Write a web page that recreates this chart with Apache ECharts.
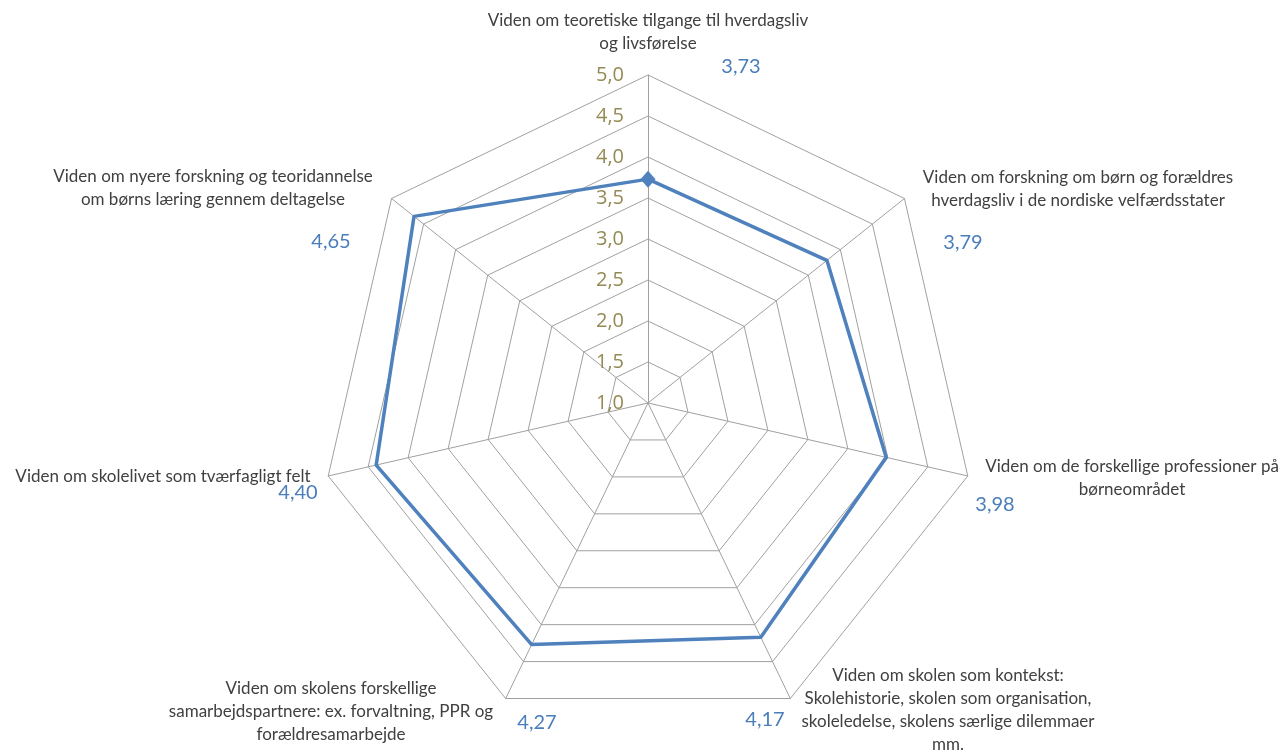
<!DOCTYPE html>
<html>
<head>
<meta charset="utf-8">
<script src="https://cdn.jsdelivr.net/npm/echarts@6/dist/echarts.min.js"></script>
<style>html,body{margin:0;padding:0;background:#fff}#c{width:1288px;height:753px}</style>
</head>
<body>
<div id="c"></div>
<script>
// Categories in clockwise order, starting at the top
const categories = [
  "Viden om teoretiske tilgange til hverdagsliv\nog livsførelse",
  "Viden om forskning om børn og forældres\nhverdagsliv i de nordiske velfærdsstater",
  "Viden om de forskellige professioner på\nbørneområdet",
  "Viden om skolen som kontekst:\nSkolehistorie, skolen som organisation,\nskoleledelse, skolens særlige dilemmaer\nmm.",
  "Viden om skolens forskellige\nsamarbejdspartnere: ex. forvaltning, PPR og\nforældresamarbejde",
  "Viden om skolelivet som tværfagligt felt",
  "Viden om nyere forskning og teoridannelse\nom børns læring gennem deltagelse"
];
const values = [3.73, 3.79, 3.98, 4.17, 4.27, 4.40, 4.65];
const tickLabels = ["1,0","1,5","2,0","2,5","3,0","3,5","4,0","4,5","5,0"];
const axisMin = 1, axisMax = 5, axisInterval = 0.5;

// Layout of texts (pixel anchors), same order as categories
const nameAnchors = [[648,32],[1078,189],[1132,478],[948,710],[331,712],[163,477],[213,188]];
const valueAnchors = [[741,67],[963,243],[995,505],[765,720],[537,723],[298,493],[331,242]];

// ECharts radar places indicators counter-clockwise: reorder
const order = [0,6,5,4,3,2,1];
const fmt = v => v.toFixed(2).replace('.', ',');

const CX = 648, CY = 403, R = 328;
const FONT = 'Lato, "Open Sans", sans-serif';

const chart = echarts.init(document.getElementById('c'));
const graphics = [];
categories.forEach((name, i) => {
  graphics.push({type:'text', x:nameAnchors[i][0], y:nameAnchors[i][1], silent:true,
    style:{text:name, fill:'#404040', font:'17px ' + FONT, align:'center', verticalAlign:'middle', lineHeight:23}});
  graphics.push({type:'text', x:valueAnchors[i][0], y:valueAnchors[i][1], silent:true,
    style:{text:fmt(values[i]), fill:'#4A7EBB', font:'20px ' + FONT, align:'center', verticalAlign:'middle'}});
});

chart.setOption({
  animation:false,
  radar:{
    center:[CX, CY], radius:R, startAngle:90, splitNumber:8, shape:'polygon',
    indicator: order.map((k, j) => ({
      name:'', min:axisMin, max:axisMax,
      axisLabel: j === 0 ? {show:true} : {show:false}
    })),
    axisName:{show:false},
    axisLine:{lineStyle:{color:'#A0A0A0', width:1}},
    splitLine:{lineStyle:{color:'#A0A0A0', width:1}},
    splitArea:{show:false},
    axisTick:{show:false},
    axisLabel:{show:false, color:'#948A54', fontSize:20, fontFamily:'"Open Sans", Lato, sans-serif', margin:24,
      formatter: v => tickLabels[Math.round((v - axisMin) / axisInterval)] || ''}
  },
  polar:{center:[CX, CY], radius:R},
  angleAxis:{type:'value', min:0, max:360, startAngle:90, show:false},
  radiusAxis:{type:'value', min:axisMin, max:axisMax, show:false},
  series:[
    {type:'radar', symbol:'none', z:2,
     lineStyle:{color:'#4F81BD', width:3.5},
     data:[{value: order.map(k => values[k])}]},
    {type:'scatter', coordinateSystem:'polar', symbol:'diamond', symbolSize:[15,17], z:5,
     itemStyle:{color:'#4F81BD', opacity:1},
     data:[[values[0], 0]]}
  ],
  graphic: graphics
});
</script>
</body>
</html>
